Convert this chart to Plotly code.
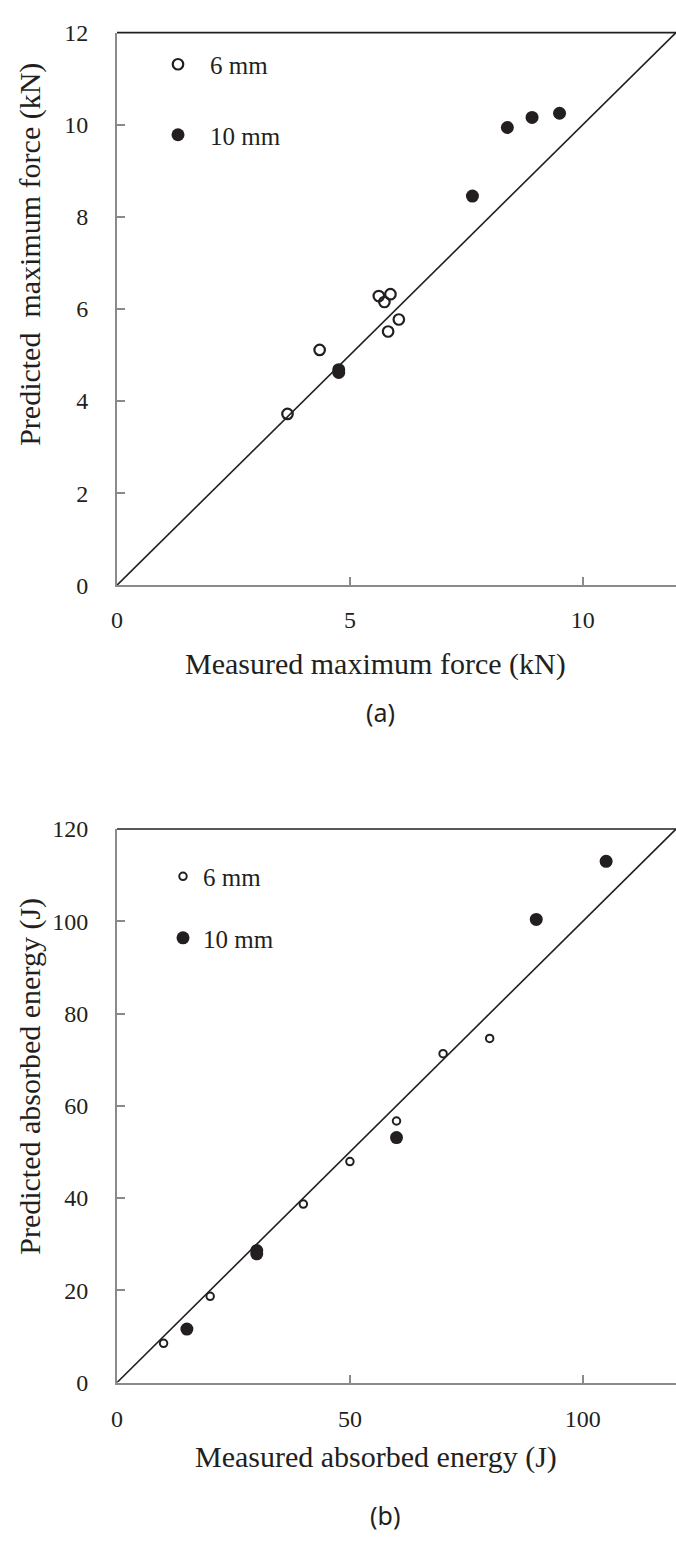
import plotly.graph_objects as go

# ---- data: (a) maximum force, kN ----
force_6_meas = [3.66, 4.35, 5.62, 5.87, 5.74, 6.05, 5.82]
force_6_pred = [3.72, 5.11, 6.28, 6.32, 6.15, 5.77, 5.51]
force_10_meas = [4.76, 4.76, 7.63, 8.38, 8.91, 9.50]
force_10_pred = [4.62, 4.68, 8.45, 9.94, 10.16, 10.25]
force_ticks_x = [0, 5, 10]
force_ticks_y = [0, 2, 4, 6, 8, 10, 12]
force_line = [0, 12]

# ---- data: (b) absorbed energy, J ----
energy_6_meas = [10, 20, 40, 50, 60, 70, 80]
energy_6_pred = [8.5, 18.7, 38.7, 47.9, 56.7, 71.3, 74.6]
energy_10_meas = [15, 30, 30, 60, 90, 105]
energy_10_pred = [11.6, 27.9, 28.6, 53.1, 100.4, 113.0]
energy_ticks_x = [0, 50, 100]
energy_ticks_y = [0, 20, 40, 60, 80, 100, 120]
energy_line = [0, 120]

W, H = 676, 1544
ML = 117
SERIF = "Liberation Serif, Times New Roman, serif"
INK = "#231f20"
AXIS_GREY = "#8a8a8a"


def py(p):
    """pixel row -> paper y"""
    return 1 - p / H


def px(p):
    """pixel column -> paper x"""
    return (p - ML) / (W - ML)


fig = go.Figure()

# 1:1 reference lines
fig.add_trace(go.Scatter(x=force_line, y=force_line, mode="lines",
                         line=dict(color=INK, width=1.6), showlegend=False,
                         xaxis="x", yaxis="y", hoverinfo="skip"))
fig.add_trace(go.Scatter(x=energy_line, y=energy_line, mode="lines",
                         line=dict(color=INK, width=1.6), showlegend=False,
                         xaxis="x2", yaxis="y2", hoverinfo="skip"))

# (a) series
fig.add_trace(go.Scatter(x=force_6_meas, y=force_6_pred, mode="markers", name="6 mm",
                         marker=dict(symbol="circle-open", size=10.5, color=INK,
                                     line=dict(width=2.2, color=INK)),
                         xaxis="x", yaxis="y", legend="legend", legendgroup="a6"))
fig.add_trace(go.Scatter(x=force_10_meas, y=force_10_pred, mode="markers", name="10 mm",
                         marker=dict(symbol="circle", size=13, color=INK),
                         xaxis="x", yaxis="y", legend="legend", legendgroup="a10"))

# (b) series
fig.add_trace(go.Scatter(x=energy_6_meas, y=energy_6_pred, mode="markers", name="6 mm",
                         marker=dict(symbol="circle-open", size=7.5, color=INK,
                                     line=dict(width=2, color=INK)),
                         xaxis="x2", yaxis="y2", legend="legend2", legendgroup="b6"))
fig.add_trace(go.Scatter(x=energy_10_meas, y=energy_10_pred, mode="markers", name="10 mm",
                         marker=dict(symbol="circle", size=13, color=INK),
                         xaxis="x2", yaxis="y2", legend="legend2", legendgroup="b10"))

tick_font = dict(family=SERIF, size=24, color=INK)
common_axis = dict(showgrid=False, zeroline=False, showline=True, linecolor=AXIS_GREY,
                   linewidth=2, ticks="inside", ticklen=8, tickwidth=1.5,
                   tickcolor=AXIS_GREY, tickfont=tick_font, fixedrange=True)

fig.update_layout(
    width=W, height=H,
    margin=dict(l=ML, r=0, t=0, b=0),
    paper_bgcolor="white", plot_bgcolor="white",
    xaxis=dict(common_axis, domain=[0, 1], range=[0, 12], tickvals=force_ticks_x,
               anchor="y", ticklabelstandoff=12),
    yaxis=dict(common_axis, domain=[py(582), py(20)], range=[0, 12], tickvals=force_ticks_y,
               anchor="x", ticklabelstandoff=22),
    xaxis2=dict(common_axis, domain=[0, 1], range=[0, 120], tickvals=energy_ticks_x,
                anchor="y2", ticklabelstandoff=14),
    yaxis2=dict(common_axis, domain=[py(1393), py(830)], range=[0, 120], tickvals=energy_ticks_y,
                anchor="x2", ticklabelstandoff=22),
    legend=dict(x=px(146), y=py(29), xanchor="left", yanchor="top",
                bgcolor="rgba(0,0,0,0)", font=dict(family=SERIF, size=25, color=INK),
                tracegroupgap=35, itemwidth=54),
    legend2=dict(x=px(163), y=py(855), xanchor="left", yanchor="top",
                 bgcolor="rgba(0,0,0,0)", font=dict(family=SERIF, size=25, color=INK),
                 tracegroupgap=26),
    shapes=[
        dict(type="line", xref="x domain", yref="y domain", x0=0, x1=1, y0=1, y1=1,
             line=dict(color=INK, width=1.6)),
        dict(type="line", xref="x2 domain", yref="y2 domain", x0=0, x1=1, y0=1, y1=1,
             line=dict(color=INK, width=1.6)),
    ],
)

title_font = dict(family=SERIF, size=30, color=INK)
label_font = dict(family="Noto Sans", size=25, color=INK)
annos = [
    dict(text="Measured maximum force (kN)", x=px(375), y=py(662), font=title_font),
    dict(text="Predicted  maximum force (kN)", x=px(30), y=py(246), font=title_font,
         textangle=-90),
    dict(text="(a)", x=px(380), y=py(711), font=label_font),
    dict(text="Measured absorbed energy (J)", x=px(376), y=py(1469), font=title_font),
    dict(text="Predicted absorbed energy (J)", x=px(30), y=py(1082), font=title_font,
         textangle=-90),
    dict(text="(b)", x=px(385), y=py(1528), font=label_font),
]
for a in annos:
    fig.add_annotation(xref="paper", yref="paper", showarrow=False,
                       xanchor="center", yanchor="middle", **a)

fig.write_html("out.html")
